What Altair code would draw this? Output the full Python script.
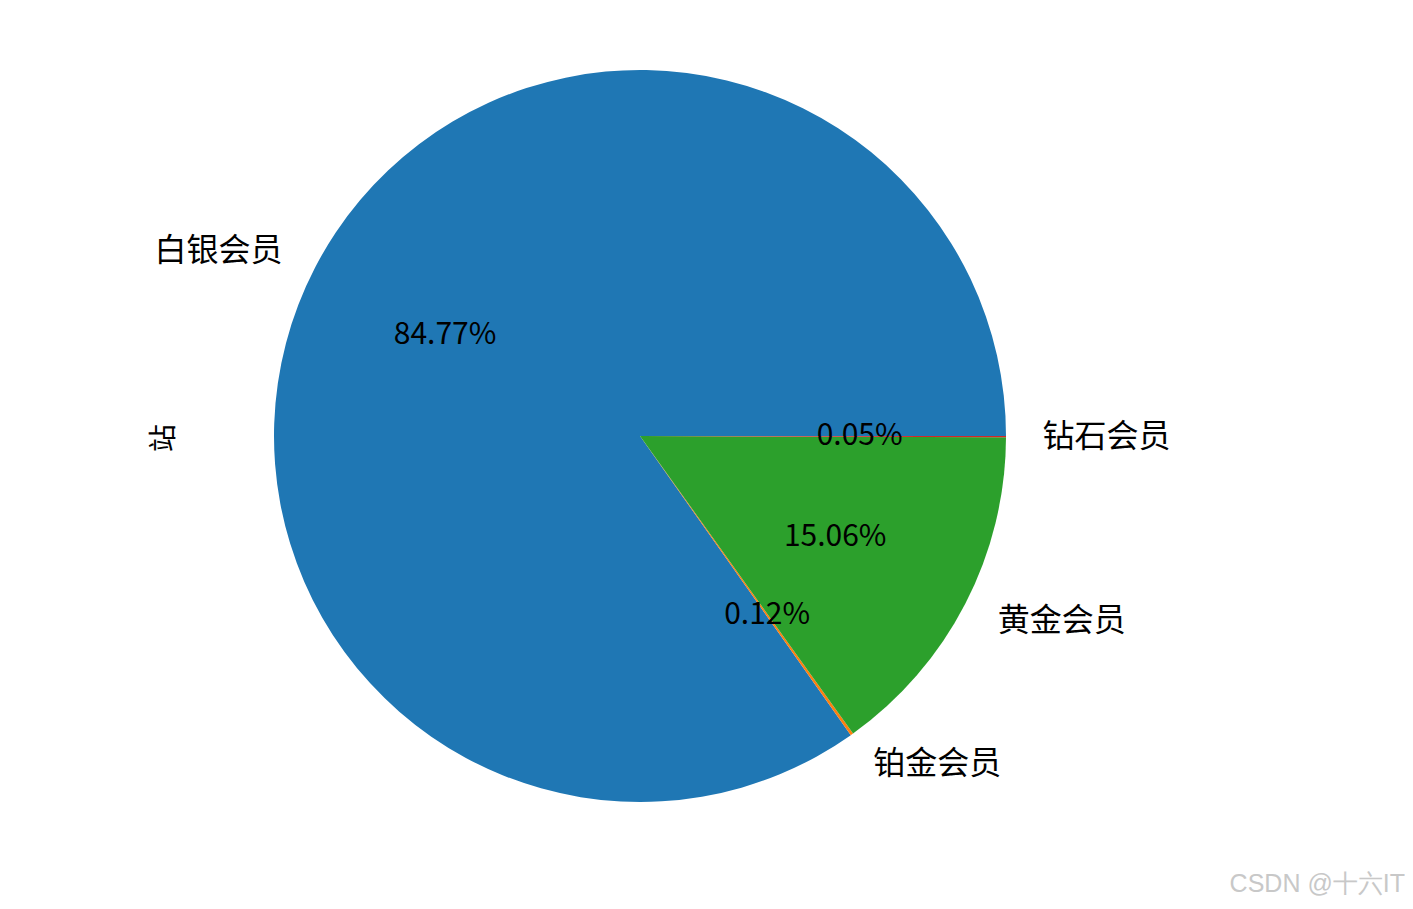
import math
import altair as alt
import pandas as pd

categories = ["白银会员", "铂金会员", "黄金会员", "钻石会员"]
percents = [84.77, 0.12, 15.06, 0.05]
pct_labels = ["84.77%", "0.12%", "15.06%", "0.05%"]
colors = ["#1f77b4", "#ff7f0e", "#2ca02c", "#d62728"]
label_side = ["right", "left", "left", "left"]
ylabel = "站"
watermark = "CSDN @十六IT"

df = pd.DataFrame({
    "cat": categories,
    "value": percents,
    "pct": pct_labels,
    "idx": list(range(len(categories))),
    "side": label_side,
})

W, H = 1397, 893
CX, CY = 632, 428
R = 366
FONT = "Noto Sans CJK SC"

theta = alt.Theta("value:Q", stack=True,
                  scale=alt.Scale(range=[math.pi / 2, math.pi / 2 - 2 * math.pi]))
base = alt.Chart(df).encode(
    theta=theta,
    order=alt.Order("idx:Q"),
    x=alt.value(CX),
    y=alt.value(CY),
)

arcs = base.mark_arc(outerRadius=R).encode(
    color=alt.Color("cat:N", scale=alt.Scale(domain=categories, range=colors), legend=None)
)

pct_text = base.mark_text(radius=0.6 * R, font=FONT, fontSize=30, color="black",
                          align="center", baseline="middle").encode(text="pct:N")

lab_right = base.mark_text(radius=1.1 * R, font=FONT, fontSize=32, color="black",
                           align="right", baseline="middle").encode(
    text=alt.condition(alt.datum.side == "right", alt.Text("cat:N"), alt.value("")))
lab_left = base.mark_text(radius=1.1 * R, font=FONT, fontSize=32, color="black",
                          align="left", baseline="middle").encode(
    text=alt.condition(alt.datum.side == "left", alt.Text("cat:N"), alt.value("")))

ytitle = alt.Chart(pd.DataFrame({"t": [ylabel]})).mark_text(
    font=FONT, fontSize=28, angle=270, color="black", align="center", baseline="middle"
).encode(text="t:N", x=alt.value(157), y=alt.value(430))

wm = alt.Chart(pd.DataFrame({"t": [watermark]})).mark_text(
    font="Liberation Sans", fontSize=25, color="#c8c8c8", align="right", baseline="middle"
).encode(text="t:N", x=alt.value(1397), y=alt.value(876))

chart = alt.layer(arcs, pct_text, lab_right, lab_left, ytitle, wm).properties(
    width=W, height=H, padding=0, autosize=alt.AutoSizeParams(type="none")
).configure_view(stroke=None)

chart.save("out.html", embed_options={"renderer": "svg", "actions": False})
